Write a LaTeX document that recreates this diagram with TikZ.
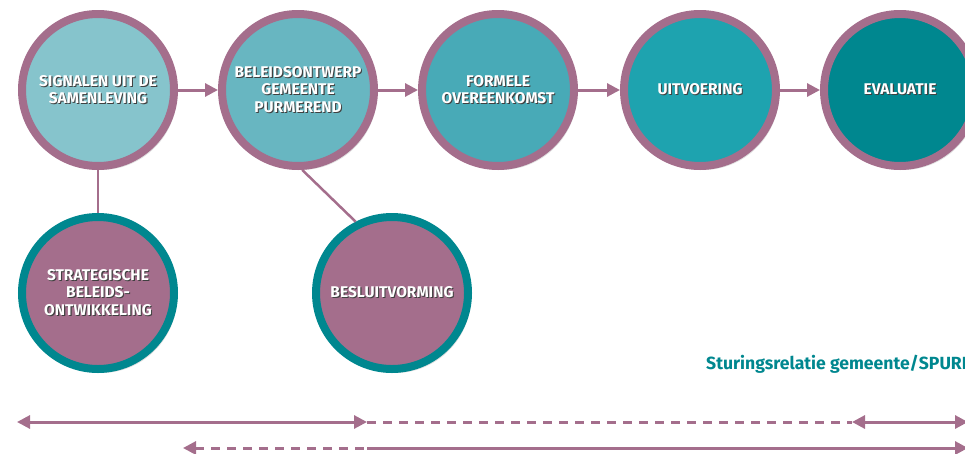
\documentclass[tikz,border=0pt]{standalone}
\usepackage{fontspec}
\setmainfont{Fira Sans}
\usetikzlibrary{arrows.meta,shadows}
\definecolor{plum}{HTML}{A46E8C}
\definecolor{tealdark}{HTML}{00878F}
\definecolor{tA}{HTML}{86C4CC}
\definecolor{tB}{HTML}{68B6C1}
\definecolor{tC}{HTML}{48AAB7}
\definecolor{tD}{HTML}{1EA3AF}
\definecolor{tE}{HTML}{00878F}
\newcommand{\stx}[1]{\leavevmode\rlap{\kern1.1pt\raisebox{-1.1pt}{\textcolor{black!75}{#1}}}\textcolor{white}{#1}}
\begin{document}
\begin{tikzpicture}[x=1pt,y=-1pt,
  >={Triangle[length=13pt,width=13pt]},
  phase/.style={circle, draw=plum, line width=8pt, minimum size=152pt, inner sep=0pt, outer sep=4pt,
    font=\bfseries\fontsize{15.5}{17.5}\selectfont, align=center,
    drop shadow={shadow xshift=3pt,shadow yshift=-4pt,opacity=0.25}},
  side/.style={phase, draw=tealdark, fill=plum},
  flow/.style={draw=plum, line width=3pt, ->},
  link/.style={draw=plum, line width=2.5pt},
  bar/.style={draw=plum, line width=3pt},
  dsh/.style={dash pattern=on 9pt off 7pt}
]
\useasboundingbox (0,0) rectangle (965,453);
\clip (0,0) rectangle (965,453);

\node[phase, fill=tA] (c1) at (98,90) {\stx{SIGNALEN UIT DE}\\\stx{SAMENLEVING}};
\node[phase, fill=tB] (c2) at (298,90) {\stx{BELEIDSONTWERP}\\\stx{GEMEENTE}\\\stx{PURMEREND}};
\node[phase, fill=tC] (c3) at (498,90) {\stx{FORMELE}\\\stx{OVEREENKOMST}};
\node[phase, fill=tD] (c4) at (700,90) {\stx{UITVOERING}};
\node[phase, fill=tE] (c5) at (900,90) {\stx{EVALUATIE}};

\node[side] (c6) at (98,293) {\stx{STRATEGISCHE}\\\stx{BELEIDS-}\\\stx{ONTWIKKELING}};
\node[side] (c7) at (392,293) {\stx{BESLUITVORMING}};

\draw[flow] (c1) -- (c2);
\draw[flow] (c2) -- (c3);
\draw[flow] (c3) -- (c4);
\draw[flow] (c4) -- (c5);
\draw[link] (c1.south) -- (c6.north);
\draw[link] (c2.-87) -- (c7.117);

\node[anchor=base west, text=tealdark, font=\bfseries\fontsize{17.6}{20}\selectfont, inner sep=0pt] (lbl) at (706,369) {Sturingsrelatie gemeente/SPURD};

\coordinate (a1) at (17,422);
\coordinate (a2) at (367,422);
\coordinate (a3) at (852,422);
\coordinate (a4) at (968,422);
\coordinate (b1) at (183,448);
\coordinate (b2) at (367,448);
\coordinate (b3) at (968,448);
\draw[bar, <->] (a1) -- (a2);
\draw[bar, dsh] (a2) -- (a3);
\draw[bar, <->] (a3) -- (a4);
\draw[bar, dsh, <-] (b1) -- (b2);
\draw[bar, ->] (b2) -- (b3);
\end{tikzpicture}
\end{document}
